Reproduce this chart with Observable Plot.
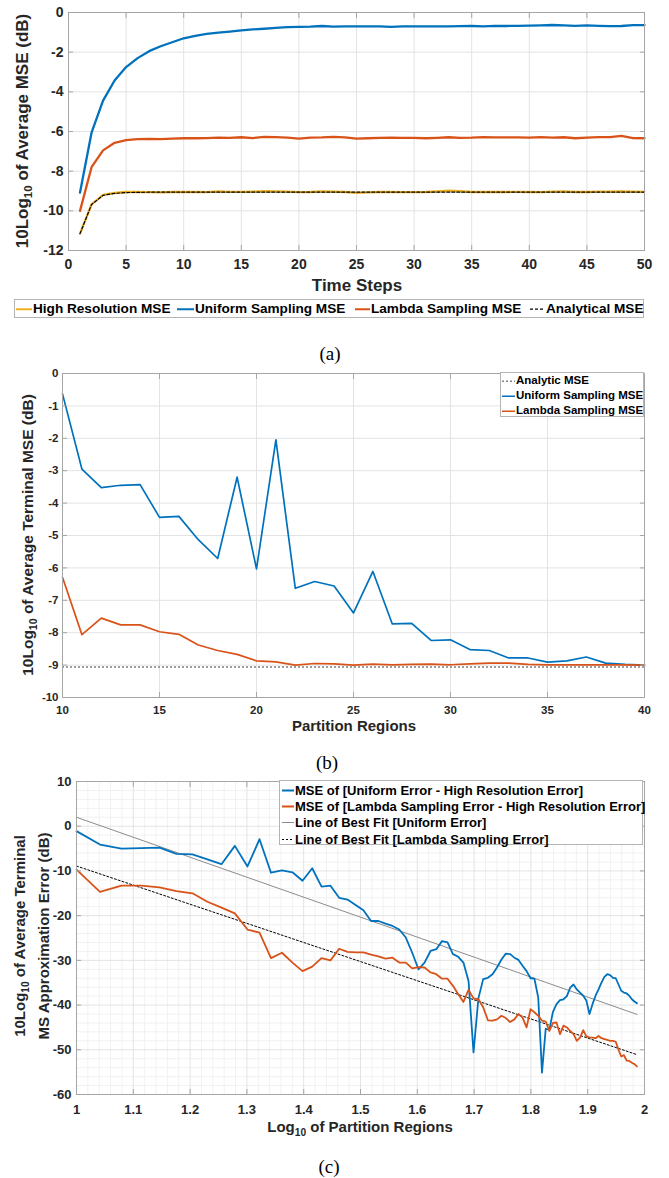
<!DOCTYPE html>
<html><head><meta charset="utf-8">
<script src="https://cdn.jsdelivr.net/npm/d3@7"></script>
<script src="https://cdn.jsdelivr.net/npm/@observablehq/plot@0.6"></script>
<style>
body{margin:0;background:#fff;}
#root{position:relative;width:669px;height:1178px;overflow:hidden;font-family:"Liberation Sans",Arial,sans-serif;}
.abs{position:absolute;white-space:nowrap;line-height:1;}
.c{transform:translate(-50%,-50%);}
.rot{transform:translate(-50%,-50%) rotate(-90deg);text-align:center;}
.lbl{font-weight:bold;color:#262626;}
.cap{font-family:"Liberation Serif","Times New Roman",serif;font-size:19px;color:#000;}
.sub{font-size:0.68em;position:relative;top:0.35em;}
.legend{position:absolute;background:#fff;border:1px solid #b4b4b4;box-sizing:border-box;font-weight:bold;color:#000;}
.legend .it{position:absolute;display:flex;align-items:center;white-space:nowrap;line-height:1;transform:translateY(-50%);}
.legend svg{display:block;}
</style></head>
<body><div id="root"></div>
<script>
// ---------- Panel (a) data ----------
const timeSteps = [1,2,3,4,5,6,7,8,9,10,11,12,13,14,15,16,17,18,19,20,21,22,23,24,25,26,27,28,29,30,31,32,33,34,35,36,37,38,39,40,41,42,43,44,45,46,47,48,49,50];
const highResMSE = [-11.15,-9.68,-9.2,-9.1,-9.05,-9.05,-9.06,-9.07,-9.05,-9.05,-9.05,-9.06,-9.02,-9.04,-9.04,-9.03,-9.01,-9.02,-9.03,-9.06,-9.05,-9.02,-9.03,-9.05,-9.09,-9.07,-9.05,-9.05,-9.06,-9.06,-9.05,-9.02,-8.98,-9.01,-9.05,-9.04,-9.05,-9.05,-9.04,-9.05,-9.06,-9.03,-9.02,-9.05,-9.05,-9.03,-9.03,-9.02,-9.03,-9.04];
const uniformMSE = [-9.08,-6.06,-4.44,-3.43,-2.75,-2.3,-1.95,-1.7,-1.5,-1.3,-1.18,-1.08,-1.01,-0.96,-0.9,-0.85,-0.82,-0.78,-0.74,-0.72,-0.71,-0.68,-0.71,-0.7,-0.7,-0.7,-0.7,-0.72,-0.7,-0.7,-0.7,-0.7,-0.7,-0.69,-0.68,-0.7,-0.67,-0.68,-0.67,-0.66,-0.65,-0.63,-0.65,-0.67,-0.65,-0.67,-0.69,-0.68,-0.64,-0.64];
const lambdaMSE = [-10.0,-7.8,-6.95,-6.57,-6.43,-6.38,-6.37,-6.38,-6.36,-6.34,-6.34,-6.33,-6.31,-6.32,-6.29,-6.33,-6.27,-6.28,-6.31,-6.36,-6.31,-6.3,-6.27,-6.3,-6.36,-6.34,-6.32,-6.31,-6.32,-6.32,-6.34,-6.32,-6.29,-6.32,-6.31,-6.28,-6.3,-6.3,-6.3,-6.31,-6.28,-6.31,-6.29,-6.34,-6.31,-6.28,-6.28,-6.22,-6.33,-6.34];
const analyticalMSE = [-11.15,-9.68,-9.22,-9.12,-9.08,-9.07,-9.06,-9.06,-9.06,-9.06,-9.06,-9.06,-9.06,-9.06,-9.06,-9.06,-9.06,-9.06,-9.06,-9.06,-9.06,-9.06,-9.06,-9.06,-9.06,-9.06,-9.06,-9.06,-9.06,-9.06,-9.06,-9.06,-9.06,-9.06,-9.06,-9.06,-9.06,-9.06,-9.06,-9.06,-9.06,-9.06,-9.06,-9.06,-9.06,-9.06,-9.06,-9.06,-9.06,-9.06];
const xTicksA = [0,5,10,15,20,25,30,35,40,45,50];
const yTicksA = [-12,-10,-8,-6,-4,-2,0];

// ---------- Panel (b) data ----------
const partitionsB = [10,11,12,13,14,15,16,17,18,19,20,21,22,23,24,25,26,27,28,29,30,31,32,33,34,35,36,37,38,39,40];
const uniformTerminal = [-0.63,-2.95,-3.52,-3.45,-3.43,-4.44,-4.41,-5.13,-5.71,-3.2,-6.03,-2.05,-6.63,-6.42,-6.56,-7.39,-6.11,-7.73,-7.71,-8.24,-8.22,-8.52,-8.55,-8.78,-8.78,-8.91,-8.87,-8.75,-8.94,-8.98,-9.0];
const lambdaTerminal = [-6.29,-8.06,-7.55,-7.76,-7.76,-7.97,-8.05,-8.38,-8.55,-8.67,-8.87,-8.9,-9.0,-8.95,-8.96,-9.0,-8.97,-8.99,-8.98,-8.97,-8.99,-8.96,-8.94,-8.94,-8.98,-8.99,-8.99,-8.99,-8.99,-8.99,-9.0];
const analyticTerminal = -9.06;
const xTicksB = [10,15,20,25,30,35,40];
const yTicksB = [-10,-9,-8,-7,-6,-5,-4,-3,-2,-1,0];

// ---------- Panel (c) data ----------
const partitionsC = [10,11,12,13,14,15,16,17,18,19,20,21,22,23,24,25,26,27,28,29,30,31,32,33,34,35,36,37,38,39,40,41,42,43,44,45,46,47,48,49,50,51,52,53,54,55,56,57,58,59,60,61,62,63,64,65,66,67,68,69,70,71,72,73,74,75,76,77,78,79,80,81,82,83,84,85,86,87,88,89,90,91,92,93,94,95,96,97];
const uniformDiff = [-1.1,-4.1,-5.0,-4.9,-4.8,-6.2,-6.3,-7.4,-8.5,-4.4,-9.0,-2.9,-10.4,-9.9,-10.3,-12.2,-9.4,-13.5,-13.3,-16.0,-16.4,-17.6,-18.8,-21.2,-21.2,-21.8,-22.3,-23.1,-24.9,-28.3,-32.0,-30.5,-27.9,-27.5,-25.7,-26.0,-28.6,-29.2,-30.5,-34.6,-50.6,-38.5,-34.2,-33.9,-33.1,-31.6,-29.8,-28.5,-28.6,-29.4,-29.9,-31.2,-32.4,-34.0,-34.1,-38.3,-55.1,-45.3,-45.5,-41.5,-39.8,-38.9,-38.7,-38.0,-36.1,-35.4,-36.5,-37.2,-37.9,-39.0,-42.0,-39.8,-37.9,-36.5,-35.0,-33.7,-33.1,-33.3,-33.9,-34.0,-35.4,-36.8,-37.2,-37.4,-37.9,-38.7,-39.2,-39.6];
const lambdaDiff = [-9.7,-14.7,-13.3,-13.3,-13.7,-14.5,-15.0,-16.9,-18.2,-19.5,-23.1,-23.8,-29.5,-28.3,-30.5,-32.4,-31.4,-29.5,-30.0,-27.4,-28.1,-28.2,-28.2,-28.7,-29.1,-29.6,-29.4,-30.5,-30.5,-31.8,-31.5,-31.6,-32.7,-33.1,-34.1,-34.1,-35.7,-37.6,-39.3,-36.6,-38.5,-38.7,-40.5,-43.4,-43.5,-43.2,-42.4,-42.9,-43.8,-43.2,-42.0,-42.8,-45.0,-40.9,-41.6,-42.4,-43.5,-43.7,-45.8,-44.0,-43.9,-46.5,-44.6,-45.0,-45.8,-46.5,-48.0,-47.3,-45.6,-47.0,-47.2,-47.3,-47.4,-46.9,-47.4,-47.6,-47.8,-48.0,-48.0,-48.2,-50.0,-51.5,-51.2,-52.4,-52.5,-52.9,-53.2,-53.7];
const fitUniformX = [1, 1.987];
const fitUniformY = [2.0, -42.1];
const fitLambdaX = [1, 1.987];
const fitLambdaY = [-8.9, -51.1];
const xTicksC = [1,1.1,1.2,1.3,1.4,1.5,1.6,1.7,1.8,1.9,2];
const yTicksC = [-60,-50,-40,-30,-20,-10,0,10];
const xMinorC = [1.02,1.04,1.06,1.08,1.12,1.14,1.16,1.18,1.22,1.24,1.26,1.28,1.32,1.34,1.36,1.38,1.42,1.44,1.46,1.48,1.52,1.54,1.56,1.58,1.62,1.64,1.66,1.68,1.72,1.74,1.76,1.78,1.82,1.84,1.86,1.88,1.92,1.94,1.96,1.98];
const yMinorC = [-58,-56,-54,-52,-48,-46,-44,-42,-38,-36,-34,-32,-28,-26,-24,-22,-18,-16,-14,-12,-8,-6,-4,-2,2,4,6,8];

// ---------- colours ----------
const BLUE = "#0072BD", ORANGE = "#D95319", YELLOW = "#EDB120";
const GRID = "#e3e3e3", MINOR = "#f1f1f1", FRAME = "#a6a6a6";

const root = document.getElementById("root");
const fmt = d => String(d);
const none = () => "";

function place(svg, top) {
  svg.style.position = "absolute"; svg.style.left = "0px"; svg.style.top = top + "px";
  root.appendChild(svg);
}
function text(html, x, y, cls, style) {
  const d = document.createElement("div");
  d.className = "abs " + cls; d.innerHTML = html;
  d.style.left = x + "px"; d.style.top = y + "px";
  Object.assign(d.style, style || {});
  root.appendChild(d);
}
function sample(w, color, sw, dash) {
  return `<svg width="${w}" height="10"><line x1="0" x2="${w}" y1="5" y2="5" stroke="${color}" stroke-width="${sw}" ${dash ? `stroke-dasharray="${dash}"` : ""}/></svg>`;
}
function legend(box, fontSize, items) {
  const d = document.createElement("div");
  d.className = "legend";
  Object.assign(d.style, {left: box.x + "px", top: box.y + "px", width: box.w + "px", height: box.h + "px", fontSize: fontSize + "px"});
  for (const it of items) {
    const e = document.createElement("div");
    e.className = "it";
    e.style.left = it.x + "px"; e.style.top = it.y + "px";
    e.innerHTML = sample(it.len, it.color, it.sw, it.dash) + `<span style="margin-left:${it.gap||1}px">${it.label}</span>`;
    d.appendChild(e);
  }
  root.appendChild(d);
}
// inward tick marks on all four sides (MATLAB style)
function inwardTicks(xt, yt, len) {
  const o = {tickSize: -len, tickFormat: none, label: null, stroke: FRAME};
  return [
    Plot.axisX(xt, {anchor: "bottom", ...o}),
    Plot.axisX(xt, {anchor: "top", ...o}),
    Plot.axisY(yt, {anchor: "left", ...o}),
    Plot.axisY(yt, {anchor: "right", ...o})
  ];
}
const baseStyle = (fs) => ({fontFamily: "'Liberation Sans', Arial, sans-serif", fontSize: fs + "px", fontWeight: "bold", color: "#262626", background: "transparent", overflow: "visible"});

// ================= Panel (a) =================
const dataA = timeSteps.map((t, i) => ({t, hi: highResMSE[i], un: uniformMSE[i], la: lambdaMSE[i], an: analyticalMSE[i]}));
const plotA = Plot.plot({
  width: 669, height: 280,
  marginLeft: 68, marginRight: 25, marginTop: 12, marginBottom: 30,
  style: baseStyle(14),
  x: {domain: [0, 50]},
  y: {domain: [-12, 0]},
  marks: [
    Plot.gridX(xTicksA, {stroke: GRID, strokeOpacity: 1}),
    Plot.gridY(yTicksA, {stroke: GRID, strokeOpacity: 1}),
    Plot.line(dataA, {x: "t", y: "hi", stroke: YELLOW, strokeWidth: 2.3}),
    Plot.line(dataA, {x: "t", y: "un", stroke: BLUE, strokeWidth: 2.3}),
    Plot.line(dataA, {x: "t", y: "la", stroke: ORANGE, strokeWidth: 2.3}),
    Plot.line(dataA, {x: "t", y: "an", stroke: "#000", strokeWidth: 1.2, strokeDasharray: "3,2"}),
    Plot.frame({stroke: FRAME}),
    ...inwardTicks(xTicksA, yTicksA, 5),
    Plot.axisX(xTicksA, {anchor: "bottom", tickSize: 0, tickPadding: 9, tickFormat: fmt, label: null}),
    Plot.axisY(yTicksA, {anchor: "left", tickSize: 0, tickPadding: 5, tickFormat: fmt, label: null})
  ]
});
place(plotA, 0);
text("10Log<span class='sub'>10</span> of Average MSE (dB)", 22, 131, "rot lbl", {fontSize: "17px"});
text("Time Steps", 357, 285, "c lbl", {fontSize: "17px"});
legend({x: 14, y: 299, w: 630, h: 19}, 13.6, [
  {x: 1, y: 9, len: 16, color: YELLOW, sw: 2, label: "High Resolution MSE"},
  {x: 162, y: 9, len: 17, color: BLUE, sw: 2, label: "Uniform Sampling MSE"},
  {x: 340, y: 9, len: 15, color: ORANGE, sw: 2, label: "Lambda Sampling MSE"},
  {x: 515, y: 9, len: 15, color: "#000", sw: 1.2, dash: "3,2", label: "Analytical MSE"}
]);
text("(a)", 330, 353, "c cap");

// ================= Panel (b) =================
const dataB = partitionsB.map((p, i) => ({p, un: uniformTerminal[i], la: lambdaTerminal[i]}));
const plotB = Plot.plot({
  width: 669, height: 377,
  marginLeft: 62, marginRight: 25, marginTop: 23, marginBottom: 30,
  style: baseStyle(11.5),
  x: {domain: [10, 40]},
  y: {domain: [-10, 0]},
  marks: [
    Plot.gridX(xTicksB, {stroke: GRID, strokeOpacity: 1}),
    Plot.gridY(yTicksB, {stroke: GRID, strokeOpacity: 1}),
    Plot.ruleY([analyticTerminal], {stroke: "#808080", strokeWidth: 1.6, strokeDasharray: "2,2"}),
    Plot.line(dataB, {x: "p", y: "un", stroke: BLUE, strokeWidth: 1.7}),
    Plot.line(dataB, {x: "p", y: "la", stroke: ORANGE, strokeWidth: 1.7}),
    Plot.frame({stroke: FRAME}),
    ...inwardTicks(xTicksB, yTicksB, 5),
    Plot.axisX(xTicksB, {anchor: "bottom", tickSize: 0, tickPadding: 8, tickFormat: fmt, label: null}),
    Plot.axisY(yTicksB, {anchor: "left", tickSize: 0, tickPadding: 4, tickFormat: fmt, label: null})
  ]
});
place(plotB, 350);
text("10Log<span class='sub'>10</span> of Average Terminal MSE (dB)", 28, 535, "rot lbl", {fontSize: "15.5px"});
text("Partition Regions", 354, 725, "c lbl", {fontSize: "15px"});
legend({x: 500, y: 372, w: 144, h: 45}, 11.5, [
  {x: 1, y: 8, len: 13, color: "#808080", sw: 1.5, dash: "2,2", label: "Analytic MSE"},
  {x: 1, y: 23, len: 13, color: BLUE, sw: 1.7, label: "Uniform Sampling MSE"},
  {x: 1, y: 38, len: 13, color: ORANGE, sw: 1.7, label: "Lambda Sampling MSE"}
]);
text("(b)", 327, 762, "c cap");

// ================= Panel (c) =================
const dataC = partitionsC.map((n, i) => ({lx: Math.log10(n), un: uniformDiff[i], la: lambdaDiff[i]}));
const fitU = fitUniformX.map((x, i) => ({x, y: fitUniformY[i]}));
const fitL = fitLambdaX.map((x, i) => ({x, y: fitLambdaY[i]}));
const plotC = Plot.plot({
  width: 669, height: 364,
  marginLeft: 76, marginRight: 25, marginTop: 21, marginBottom: 30,
  style: baseStyle(13),
  x: {domain: [1, 2]},
  y: {domain: [-60, 10]},
  marks: [
    Plot.gridX(xMinorC, {stroke: MINOR, strokeOpacity: 1}),
    Plot.gridY(yMinorC, {stroke: MINOR, strokeOpacity: 1}),
    Plot.gridX(xTicksC, {stroke: GRID, strokeOpacity: 1}),
    Plot.gridY(yTicksC, {stroke: GRID, strokeOpacity: 1}),
    Plot.line(fitU, {x: "x", y: "y", stroke: "#8c8c8c", strokeWidth: 1}),
    Plot.line(fitL, {x: "x", y: "y", stroke: "#000", strokeWidth: 1, strokeDasharray: "2,2"}),
    Plot.line(dataC, {x: "lx", y: "un", stroke: BLUE, strokeWidth: 1.8}),
    Plot.line(dataC, {x: "lx", y: "la", stroke: ORANGE, strokeWidth: 1.8}),
    Plot.frame({stroke: FRAME}),
    ...inwardTicks(xTicksC, yTicksC, 5),
    Plot.axisX(xTicksC, {anchor: "bottom", tickSize: 0, tickPadding: 10, tickFormat: d => String(+d.toFixed(1)), label: null}),
    Plot.axisY(yTicksC, {anchor: "left", tickSize: 0, tickPadding: 5, tickFormat: fmt, label: null})
  ]
});
place(plotC, 760);
text("10Log<span class='sub'>10</span> of Average Terminal<br><span style='display:inline-block;margin-top:4px'>MS Approximation Error (dB)</span>", 32, 936, "rot lbl", {fontSize: "15px", lineHeight: "18px"});
text("Log<span class='sub'>10</span> of Partition Regions", 360, 1127, "c lbl", {fontSize: "15px"});
legend({x: 279, y: 780, w: 364, h: 65}, 13, [
  {x: 2, y: 9, len: 12, color: BLUE, sw: 1.8, label: "MSE of [Uniform Error - High Resolution Error]"},
  {x: 2, y: 25, len: 12, color: ORANGE, sw: 1.8, label: "MSE of [Lambda Sampling Error - High Resolution Error]"},
  {x: 2, y: 41, len: 12, color: "#8c8c8c", sw: 1, label: "Line of Best Fit [Uniform Error]"},
  {x: 2, y: 58, len: 12, color: "#000", sw: 1, dash: "2,2", label: "Line of Best Fit [Lambda Sampling Error]"}
]);
text("(c)", 329, 1166, "c cap");
</script>
</body></html>
